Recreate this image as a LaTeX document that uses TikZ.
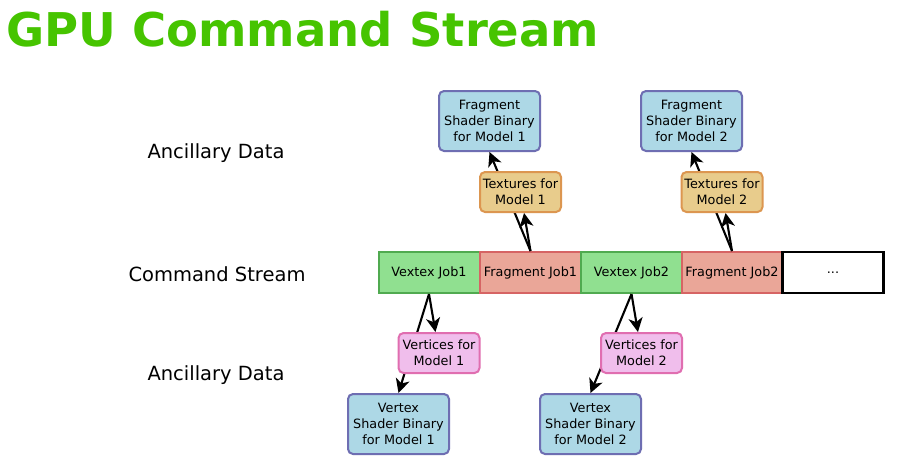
\documentclass[tikz,border=0pt]{standalone}
\usepackage{fontspec}
\setmainfont{DejaVu Sans}
\usetikzlibrary{arrows.meta}
\definecolor{titlegreen}{RGB}{70,196,0}
\definecolor{jobgreen}{RGB}{144,224,144}
\definecolor{jobgreenb}{RGB}{80,170,80}
\definecolor{jobred}{RGB}{234,166,152}
\definecolor{jobredb}{RGB}{214,100,100}
\definecolor{shblue}{RGB}{173,216,230}
\definecolor{shblueb}{RGB}{110,110,178}
\definecolor{texfill}{RGB}{232,204,140}
\definecolor{texb}{RGB}{220,150,80}
\definecolor{vtfill}{RGB}{240,190,236}
\definecolor{vtb}{RGB}{224,110,176}
\tikzset{
  boxtext/.style={font=\fontsize{12.8}{16}\selectfont, align=center, inner sep=0pt},
  job/.style={boxtext, draw, line width=2pt, minimum width=101pt, minimum height=41pt},
  vjob/.style={job, fill=jobgreen, draw=jobgreenb},
  fjob/.style={job, fill=jobred, draw=jobredb},
  shader/.style={boxtext, draw=shblueb, fill=shblue, line width=2pt, rounded corners=5pt, minimum width=101pt, minimum height=60pt},
  tex/.style={boxtext, draw=texb, fill=texfill, line width=2pt, rounded corners=5pt, minimum width=81pt, minimum height=40pt},
  vert/.style={boxtext, draw=vtb, fill=vtfill, line width=2pt, rounded corners=5pt, minimum width=81pt, minimum height=40pt},
  side/.style={font=\fontsize{19.5}{22}\selectfont, inner sep=0pt},
  arr/.style={line width=2.1pt, -{Stealth[length=14pt,width=14pt,inset=4pt]}}
}
\begin{document}
\begin{tikzpicture}[x=1pt,y=-1pt]
\useasboundingbox[fill=white] (0,0) rectangle (901,463);
\node[anchor=base west, inner sep=0pt, text=titlegreen, font=\fontsize{46.5}{50}\selectfont\bfseries] (title) at (6,46) {GPU Command Stream};

\node[side] (anc1) at (216,153.5) {Ancillary Data};
\node[side] (cs) at (217,274) {Command Stream};
\node[side] (anc2) at (216,375.5) {Ancillary Data};

% job row
\node[vjob] (vj1) at (429,272.5) {Vextex Job1};
\node[fjob] (fj1) at (530.5,272.5) {Fragment Job1};
\node[vjob] (vj2) at (631.5,272.5) {Vextex Job2};
\node[fjob] (fj2) at (732,272.5) {Fragment Job2};
\node[job, draw=black, fill=white, line width=2.4pt] (more) at (833,272.5) {...};

% shaders
\node[shader] (fs1) at (489.5,121) {Fragment\\Shader Binary\\for Model 1};
\node[shader] (fs2) at (691.5,121) {Fragment\\Shader Binary\\for Model 2};
\node[shader] (vs1) at (398.5,424) {Vertex\\Shader Binary\\for Model 1};
\node[shader] (vs2) at (590.5,424) {Vertex\\Shader Binary\\for Model 2};

% arrows behind ancillary boxes
\draw[arr] (fj1.north) -- (fs1.south);
\draw[arr] (fj2.north) -- (fs2.south);
\draw[arr] (vj1.south) -- (vs1.north);
\draw[arr] (vj2.south) -- (vs2.north);

% ancillary boxes
\node[tex] (tx1) at (520.5,192) {Textures for\\Model 1};
\node[tex] (tx2) at (722,192) {Textures for\\Model 2};
\node[vert] (vt1) at (439,353) {Vertices for\\Model 1};
\node[vert] (vt2) at (641.5,353) {Vertices for\\Model 2};

\draw[arr] (fj1.north) -- (tx1);
\draw[arr] (fj2.north) -- (tx2);
\draw[arr] (vj1.south) -- (vt1);
\draw[arr] (vj2.south) -- (vt2);
\end{tikzpicture}
\end{document}
